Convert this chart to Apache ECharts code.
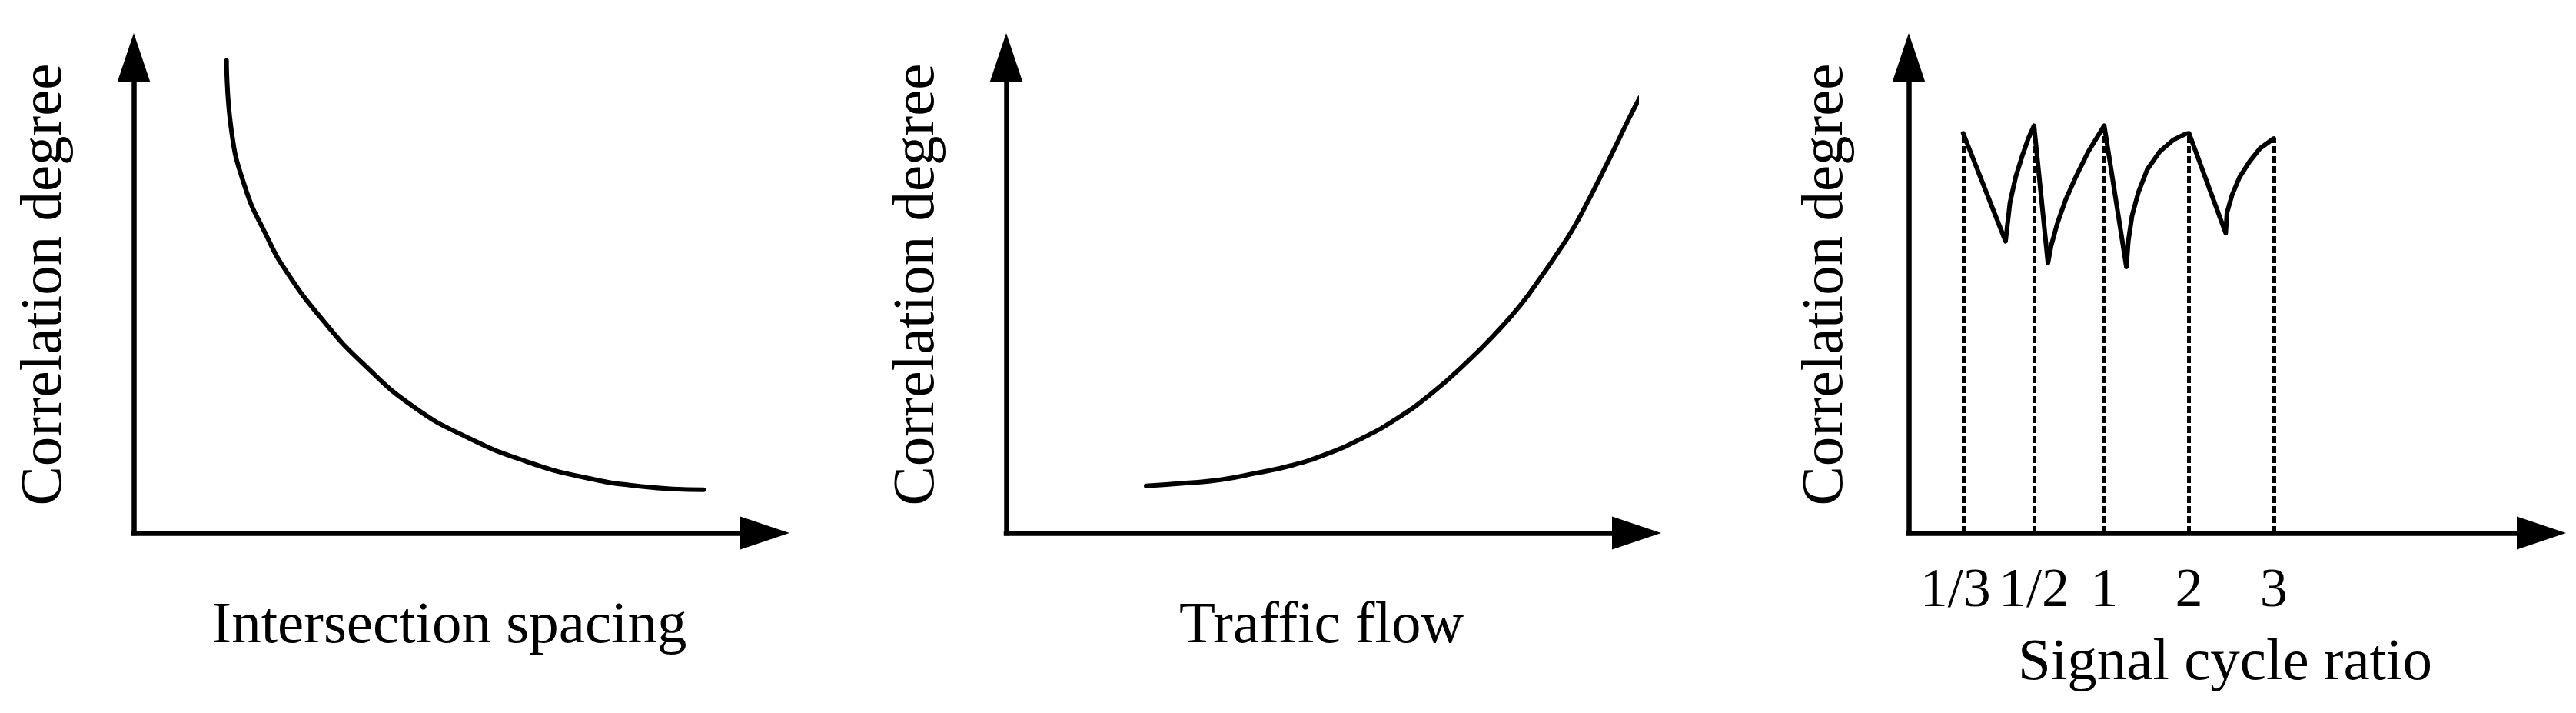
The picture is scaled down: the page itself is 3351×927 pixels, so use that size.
<!DOCTYPE html>
<html>
<head>
<meta charset="utf-8">
<script src="https://cdn.jsdelivr.net/npm/echarts@6/dist/echarts.min.js"></script>
<style>
  html, body { margin: 0; padding: 0; background: #fff; }
  #chart { width: 3351px; height: 927px; }
</style>
</head>
<body>
<div id="chart"></div>
<script>
// curve shapes, axes run 0..100 in both directions
var spacingCurve = [
  [14.7, 99.4], [15.4, 85.4], [17.6, 72.9], [20.9, 62.9], [24.2, 55.0],
  [30.2, 44.4], [36.2, 35.8], [44.4, 26.5], [53.2, 19.9], [61.9, 15.2],
  [70.7, 11.9], [80.5, 9.8], [90.3, 9.1]
];
var flowCurve = [
  [22.2, 9.9], [28.5, 10.5], [34.0, 11.2], [39.6, 12.6], [45.2, 14.2],
  [50.8, 16.6], [56.4, 19.9], [62.0, 24.1], [67.6, 29.5], [73.2, 36.1],
  [77.7, 42.1], [81.6, 48.0], [84.9, 54.0], [87.7, 59.4], [90.0, 64.2],
  [92.2, 69.6], [94.5, 75.6], [96.7, 81.5], [98.9, 87.5], [100.5, 91.6]
];
var cycleCurve = [
  [8.6, 84.1], [15.3, 61.4], [16.0, 69.5], [16.9, 74.9], [17.9, 79.2], [18.9, 83.0], [19.8, 85.7],
  [22.0, 56.8], [22.5, 60.4], [23.5, 65.2], [24.8, 70.1], [26.4, 74.9], [28.4, 80.3], [30.9, 85.7],
  [34.4, 56.0], [34.7, 61.4], [35.3, 66.8], [36.3, 71.7], [37.7, 76.5], [39.7, 80.3], [41.8, 82.7], [43.8, 84.0], [44.3, 84.1],
  [50.1, 63.1], [50.3, 67.4], [51.1, 71.1], [52.3, 74.9], [53.9, 78.2], [55.5, 80.9], [57.7, 83.0]
];
var cycleTicks = [8.6, 19.8, 30.9, 44.3, 57.7];
var cycleTickLabels = ["1/3", "1/2", "1", "2", "3"];
var cyclePeaks = [84.1, 85.7, 85.7, 84.1, 83.0];

var xNames = ["Intersection spacing", "Traffic flow", "Signal cycle ratio"];
var yName = "Correlation degree";

var font = "Liberation Serif";
var grids = [
  { left: 174, top: 75, width: 821, height: 618 },
  { left: 1309, top: 75, width: 820, height: 618 },
  { left: 2483, top: 75, width: 823, height: 618 }
];

function axisLine() {
  return {
    show: true,
    onZero: false,
    symbol: ["none", "triangle"],
    symbolSize: [43, 64],
    lineStyle: { color: "#000", width: 6.5, cap: "square" }
  };
}

var xAxes = [], yAxes = [];
for (var i = 0; i < 3; i++) {
  xAxes.push({
    type: "value",
    gridIndex: i,
    min: 0,
    max: 100,
    name: xNames[i],
    nameLocation: "middle",
    nameGap: i === 2 ? 131 : 83,
    nameTextStyle: { fontFamily: font, fontSize: 77, color: "#000" },
    axisLine: axisLine(),
    axisTick: { show: false },
    splitLine: { show: false },
    axisLabel: { show: false }
  });
  yAxes.push({
    type: "value",
    gridIndex: i,
    min: 0,
    max: 100,
    name: yName,
    nameLocation: "middle",
    nameGap: i === 2 ? 69 : 77,
    nameTextStyle: { fontFamily: font, fontSize: 77, color: "#000", padding: [0, 0, 0, 28] },
    axisLine: axisLine(),
    axisTick: { show: false },
    splitLine: { show: false },
    axisLabel: { show: false }
  });
}

// tick labels for the cycle ratio chart, first one nudged left like the original
xAxes[2].axisLabel = {
  show: true,
  customValues: cycleTicks,
  margin: 40,
  fontFamily: font,
  fontSize: 72,
  color: "#000",
  formatter: function (v) {
    var k = cycleTicks.indexOf(v);
    if (k < 0) return "";
    return k === 0 ? "{first|" + cycleTickLabels[k] + "}" : cycleTickLabels[k];
  },
  rich: {
    first: { fontFamily: font, fontSize: 72, color: "#000", padding: [0, 20, 0, 0] }
  }
};

var curveStyle = { color: "#000", width: 6, cap: "round", join: "round" };

var dropLines = cycleTicks.map(function (x, k) {
  return [{ coord: [x, 0] }, { coord: [x, cyclePeaks[k]] }];
});

var myChart = echarts.init(document.getElementById("chart"));
myChart.setOption({
  animation: false,
  backgroundColor: "#fff",
  grid: grids,
  xAxis: xAxes,
  yAxis: yAxes,
  series: [
    {
      type: "line",
      xAxisIndex: 0,
      yAxisIndex: 0,
      data: spacingCurve,
      smooth: 0.5,
      showSymbol: false,
      clip: false,
      lineStyle: curveStyle
    },
    {
      type: "line",
      xAxisIndex: 1,
      yAxisIndex: 1,
      data: flowCurve,
      smooth: 0.5,
      showSymbol: false,
      clip: false,
      lineStyle: curveStyle
    },
    {
      type: "line",
      xAxisIndex: 2,
      yAxisIndex: 2,
      data: cycleCurve,
      smooth: false,
      showSymbol: false,
      clip: false,
      lineStyle: curveStyle,
      markLine: {
        silent: true,
        symbol: ["none", "none"],
        label: { show: false },
        lineStyle: { color: "#000", width: 5, type: [9, 4] },
        data: dropLines
      }
    }
  ]
});
</script>
</body>
</html>
